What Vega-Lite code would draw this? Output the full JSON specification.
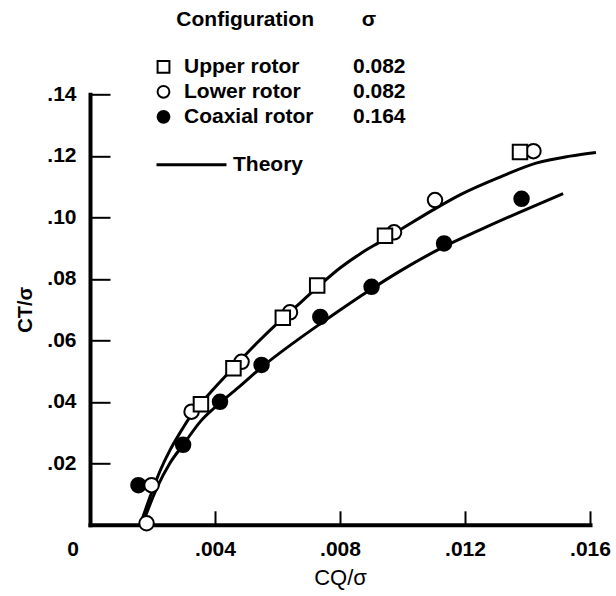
{
  "$schema": "https://vega.github.io/schema/vega-lite/v6.json",
  "width": 500,
  "height": 430.5,
  "autosize": {"type": "none"},
  "padding": {"left": 90, "top": 94.3, "right": 26, "bottom": 71.2},
  "background": "white",
  "config": {
    "view": {"stroke": null},
    "font": "Liberation Sans",
    "axis": {
      "grid": false,
      "domainColor": "black",
      "domainWidth": 4,
      "domainCap": "square",
      "tickColor": "black",
      "tickWidth": 2,
      "labelColor": "black",
      "labelFont": "Liberation Sans",
      "labelFontSize": 21,
      "labelFontWeight": "bold",
      "labelFlush": false,
      "labelOverlap": false,
      "titleColor": "black",
      "titleFont": "Liberation Sans"
    },
    "legend": {
      "padding": 0,
      "labelColor": "black",
      "labelFont": "Liberation Sans",
      "labelFontSize": 21,
      "labelFontWeight": "bold",
      "titleColor": "black",
      "titleFont": "Liberation Sans",
      "titleFontSize": 21,
      "titleFontWeight": "bold"
    }
  },
  "datasets": {
    "theory": [
      {"curve": "isolated", "cq": 0.00166, "ct": 0.0016},
      {"curve": "isolated", "cq": 0.00192, "ct": 0.009},
      {"curve": "isolated", "cq": 0.00224, "ct": 0.0175},
      {"curve": "isolated", "cq": 0.00256, "ct": 0.0243},
      {"curve": "isolated", "cq": 0.00288, "ct": 0.0299},
      {"curve": "isolated", "cq": 0.00326, "ct": 0.036},
      {"curve": "isolated", "cq": 0.00384, "ct": 0.0429},
      {"curve": "isolated", "cq": 0.00458, "ct": 0.051},
      {"curve": "isolated", "cq": 0.00534, "ct": 0.0591},
      {"curve": "isolated", "cq": 0.00614, "ct": 0.0669},
      {"curve": "isolated", "cq": 0.00672, "ct": 0.0721},
      {"curve": "isolated", "cq": 0.00736, "ct": 0.078},
      {"curve": "isolated", "cq": 0.008, "ct": 0.0835},
      {"curve": "isolated", "cq": 0.00864, "ct": 0.0881},
      {"curve": "isolated", "cq": 0.00928, "ct": 0.092},
      {"curve": "isolated", "cq": 0.00992, "ct": 0.0959},
      {"curve": "isolated", "cq": 0.01098, "ct": 0.1024},
      {"curve": "isolated", "cq": 0.01184, "ct": 0.1073},
      {"curve": "isolated", "cq": 0.01312, "ct": 0.1131},
      {"curve": "isolated", "cq": 0.0143, "ct": 0.1177},
      {"curve": "isolated", "cq": 0.01536, "ct": 0.1199},
      {"curve": "isolated", "cq": 0.01619, "ct": 0.1211},
      {"curve": "coaxial", "cq": 0.00173, "ct": 0.0016},
      {"curve": "coaxial", "cq": 0.00214, "ct": 0.012},
      {"curve": "coaxial", "cq": 0.00256, "ct": 0.0201},
      {"curve": "coaxial", "cq": 0.00298, "ct": 0.026},
      {"curve": "coaxial", "cq": 0.00355, "ct": 0.0338},
      {"curve": "coaxial", "cq": 0.00416, "ct": 0.0396},
      {"curve": "coaxial", "cq": 0.0048, "ct": 0.0451},
      {"curve": "coaxial", "cq": 0.0055, "ct": 0.0513},
      {"curve": "coaxial", "cq": 0.00672, "ct": 0.0607},
      {"curve": "coaxial", "cq": 0.00736, "ct": 0.0653},
      {"curve": "coaxial", "cq": 0.00886, "ct": 0.0757},
      {"curve": "coaxial", "cq": 0.00992, "ct": 0.0825},
      {"curve": "coaxial", "cq": 0.0113, "ct": 0.0903},
      {"curve": "coaxial", "cq": 0.01248, "ct": 0.0959},
      {"curve": "coaxial", "cq": 0.01376, "ct": 0.1017},
      {"curve": "coaxial", "cq": 0.01514, "ct": 0.1077}
    ],
    "points": [
      {"config": "Coaxial rotor", "cq": 0.00155, "ct": 0.0129},
      {"config": "Coaxial rotor", "cq": 0.00298, "ct": 0.026},
      {"config": "Coaxial rotor", "cq": 0.00416, "ct": 0.04},
      {"config": "Coaxial rotor", "cq": 0.00549, "ct": 0.052},
      {"config": "Coaxial rotor", "cq": 0.00737, "ct": 0.0676},
      {"config": "Coaxial rotor", "cq": 0.00901, "ct": 0.0774},
      {"config": "Coaxial rotor", "cq": 0.01133, "ct": 0.0915},
      {"config": "Coaxial rotor", "cq": 0.01381, "ct": 0.106},
      {"config": "Lower rotor", "cq": 0.00181, "ct": 0.0005},
      {"config": "Lower rotor", "cq": 0.00197, "ct": 0.0129},
      {"config": "Lower rotor", "cq": 0.00325, "ct": 0.0368},
      {"config": "Lower rotor", "cq": 0.00485, "ct": 0.053},
      {"config": "Lower rotor", "cq": 0.0064, "ct": 0.0691},
      {"config": "Lower rotor", "cq": 0.00973, "ct": 0.0951},
      {"config": "Lower rotor", "cq": 0.01104, "ct": 0.1056},
      {"config": "Lower rotor", "cq": 0.01419, "ct": 0.1215},
      {"config": "Upper rotor", "cq": 0.00355, "ct": 0.0392},
      {"config": "Upper rotor", "cq": 0.00459, "ct": 0.0509},
      {"config": "Upper rotor", "cq": 0.00617, "ct": 0.0673},
      {"config": "Upper rotor", "cq": 0.00727, "ct": 0.0778},
      {"config": "Upper rotor", "cq": 0.00944, "ct": 0.094},
      {"config": "Upper rotor", "cq": 0.01376, "ct": 0.1212}
    ]
  },
  "layer": [
    {
      "data": {"name": "theory"},
      "mark": {"type": "line", "strokeWidth": 3, "interpolate": "monotone", "strokeCap": "butt"},
      "encoding": {
        "x": {
          "field": "cq",
          "type": "quantitative",
          "scale": {"domain": [0, 0.016], "nice": false, "zero": false},
          "axis": {
            "values": [0, 0.004, 0.008, 0.012, 0.016],
            "labelExpr": "datum.value == 0 ? '0' : replace(format(datum.value, '.3f'), '0.', '.')",
            "labelOffset": {"condition": {"test": "datum.value == 0", "value": -17.5}, "value": 0},
            "tickSize": -14,
            "labelPadding": 28,
            "title": "CQ/σ",
            "titleFontSize": 22,
            "titleFontWeight": "normal",
            "titleBaseline": "middle",
            "titleY": 53
          }
        },
        "y": {
          "field": "ct",
          "type": "quantitative",
          "scale": {"domain": [0, 0.14], "nice": false, "zero": false},
          "axis": {
            "values": [0, 0.02, 0.04, 0.06, 0.08, 0.1, 0.12, 0.14],
            "labelExpr": "datum.value == 0 ? '' : replace(format(datum.value, '.2f'), '0.', '.')",
            "tickSize": -20,
            "labelPadding": 34,
            "title": "CT/σ",
            "titleFontSize": 20,
            "titleFontWeight": "bold",
            "titleBaseline": "middle",
            "titleX": -65,
            "titleY": 215
          }
        },
        "detail": {"field": "curve", "type": "nominal"},
        "color": {
          "datum": "Theory",
          "type": "nominal",
          "scale": {"range": ["black"]},
          "legend": {
            "title": null,
            "orient": "none",
            "legendX": 65,
            "legendY": 34,
            "symbolType": "stroke",
            "symbolSize": 4900,
            "symbolStrokeWidth": 3,
            "symbolStrokeColor": "black",
            "labelOffset": 5
          }
        }
      }
    },
    {
      "data": {"name": "points"},
      "mark": {"type": "point", "filled": true, "strokeWidth": 2, "size": 210, "opacity": 1},
      "encoding": {
        "x": {"field": "cq", "type": "quantitative"},
        "y": {"field": "ct", "type": "quantitative"},
        "shape": {
          "field": "config",
          "type": "nominal",
          "scale": {"domain": ["Upper rotor", "Lower rotor", "Coaxial rotor"], "range": ["square", "circle", "circle"]},
          "legend": {
            "title": "Configuration",
            "orient": "none",
            "legendX": 63,
            "legendY": -85,
            "titleAnchor": "end",
            "titlePadding": 26,
            "rowPadding": 3,
            "labelOffset": 10,
            "symbolSize": 140,
            "symbolStrokeWidth": 2
          }
        },
        "fill": {
          "field": "config",
          "type": "nominal",
          "scale": {"domain": ["Upper rotor", "Lower rotor", "Coaxial rotor"], "range": ["white", "white", "black"]},
          "legend": {
            "title": "Configuration",
            "orient": "none",
            "legendX": 63,
            "legendY": -85,
            "titleAnchor": "end",
            "titlePadding": 26,
            "rowPadding": 3,
            "labelOffset": 10,
            "symbolSize": 140,
            "symbolStrokeWidth": 2
          }
        },
        "stroke": {
          "field": "config",
          "type": "nominal",
          "scale": {"domain": ["Upper rotor", "Lower rotor", "Coaxial rotor"], "range": ["black", "black", "black"]},
          "legend": {
            "title": "Configuration",
            "orient": "none",
            "legendX": 63,
            "legendY": -85,
            "titleAnchor": "end",
            "titlePadding": 26,
            "rowPadding": 3,
            "labelOffset": 10,
            "symbolSize": 140,
            "symbolStrokeWidth": 2
          }
        },
        "opacity": {
          "field": "config",
          "type": "nominal",
          "sort": ["Upper rotor", "Lower rotor", "Coaxial rotor"],
          "scale": {"type": "point", "range": [1, 1]},
          "legend": {
            "title": "σ",
            "orient": "none",
            "legendX": 242,
            "legendY": -85,
            "titleAnchor": "middle",
            "titlePadding": 26,
            "rowPadding": 3,
            "labelOffset": 0,
            "symbolSize": 0,
            "symbolStrokeWidth": 0,
            "symbolOpacity": 0,
            "labelExpr": "datum.label == 'Coaxial rotor' ? '0.164' : '0.082'"
          }
        }
      }
    }
  ]
}
